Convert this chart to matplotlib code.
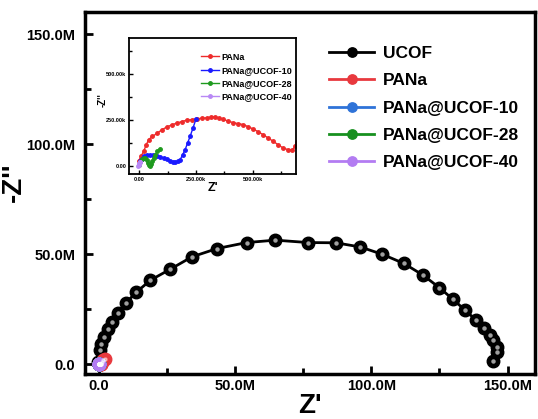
import numpy as np
import matplotlib.pyplot as plt
from matplotlib.ticker import FuncFormatter, MultipleLocator

plt.rcParams['font.family'] = ['Liberation Sans', 'DejaVu Sans']
plt.rcParams['font.weight'] = 'bold'

# UCOF impedance, in MOhm
ucof_x = [-0.3, 0.4, 1.0, 2.0, 3.4, 4.9, 7.1, 10.0, 13.8, 19.0, 26.3, 34.2, 43.5, 54.3, 64.8, 76.9,
          87.0, 96.0, 104.0, 112.0, 119.0, 125.0, 130.0, 134.5, 138.5, 141.5, 143.5, 144.5, 146.0, 146.0, 144.5]
ucof_y = [1.0, 6.4, 9.4, 12.4, 15.8, 19.2, 23.3, 27.9, 32.7, 38.2, 43.2, 48.8, 52.6, 55.3, 56.4, 55.3,
          55.2, 53.3, 50.0, 45.8, 40.5, 34.8, 29.5, 24.5, 20.0, 16.5, 13.5, 11.0, 8.0, 5.5, 1.5]

# other samples, in kOhm
pana_x = [-3, 8, 19, 30, 41, 58, 77, 98, 121, 143, 165, 187, 209, 231, 253, 275, 297, 315, 333, 352, 370,
          392, 414, 436, 458, 480, 501, 523, 545, 567, 589, 611, 633, 654, 674, 685, 695, 800, 1200, 1700, 2200]
pana_y = [27, 52, 79, 112, 143, 160, 176, 195, 212, 223, 233, 241, 249, 252, 256, 259, 262, 265, 268, 261, 253,
          244, 235, 230, 225, 213, 201, 186, 170, 152, 134, 115, 97, 88, 84, 105, 128, 300, 900, 1800, 2600]

u10_x = [4, 12, 19, 33, 48, 62, 77, 92, 107, 121, 136, 147, 158, 169, 180, 191, 202, 213, 224, 237, 250]
u10_y = [24, 38, 51, 58, 60, 58, 55, 49, 42, 35, 27, 22, 18, 24, 33, 60, 88, 125, 161, 208, 256]

u28_x = [-3, 4, 12, 19, 26, 32, 37, 41, 45, 50, 56, 63, 70, 80, 89]
u28_y = [5, 22, 37, 40, 42, 30, 15, 4, -4, 10, 24, 42, 60, 78, 93]

u40_x = [-4, -3, -2, 0, 2, 4]
u40_y = [-4, 2, 8, 14, 19, 22]

names = ['PANa', 'PANa@UCOF-10', 'PANa@UCOF-28', 'PANa@UCOF-40']
main_colors = ['#e8393e', '#2f73d8', '#17901f', '#b37cf2']
inset_colors = ['#ee2b2b', '#1a1aff', '#1e9a1e', '#b888f5']
samples = [(pana_x, pana_y), (u10_x, u10_y), (u28_x, u28_y), (u40_x, u40_y)]

fig = plt.figure(figsize=(5.38, 4.19), dpi=100)
ax = fig.add_axes([0.158, 0.107, 0.836, 0.864])

# main plot, small light dot on each marker for the shaded look
ax.plot(ucof_x, ucof_y, '-o', color='black', lw=2, ms=9, label='UCOF', zorder=3)
ax.plot(ucof_x, ucof_y, 'o', color='#a0a0a0', ms=2.2, zorder=4)
for (sx, sy), c, n in zip(samples, main_colors, names):
    mx = np.array(sx) / 1000
    my = np.array(sy) / 1000
    ax.plot(mx, my, '-o', color=c, lw=2, ms=9, label=n, zorder=5)
    ax.plot(mx, my, 'o', color='white', alpha=0.45, ms=2.2, zorder=6)

ax.set_xlim(-5, 160)
ax.set_ylim(-4.5, 160)
ax.xaxis.set_major_locator(MultipleLocator(50))
ax.xaxis.set_minor_locator(MultipleLocator(25))
ax.yaxis.set_major_locator(MultipleLocator(50))
ax.yaxis.set_minor_locator(MultipleLocator(25))
fmt_m = FuncFormatter(lambda v, p: '0.0' if v == 0 else f'{v:.1f}M')
ax.xaxis.set_major_formatter(fmt_m)
ax.yaxis.set_major_formatter(fmt_m)
ax.tick_params(which='both', direction='in', width=2, labelsize=10.5)
ax.tick_params(which='major', length=6)
ax.tick_params(which='minor', length=4)
ax.tick_params(axis='y', pad=7)
for s in ax.spines.values():
    s.set_linewidth(2.5)
ax.set_xlabel("Z'", fontsize=20, fontweight='bold', labelpad=0)
ax.set_ylabel("-Z''", fontsize=20, fontweight='bold')
ax.yaxis.set_label_coords(-0.13, 0.53)
ax.legend(loc='upper right', bbox_to_anchor=(1.0, 0.95), frameon=False, fontsize=12.5,
          handlelength=2.6, handletextpad=0.5, labelspacing=0.7, markerscale=0.75)

# inset
ins = fig.add_axes([0.240, 0.585, 0.310, 0.325])
for (sx, sy), c, n in zip(samples, inset_colors, names):
    ins.plot(np.array(sx) * 1000, np.array(sy) * 1000, '-o', color=c, lw=1, ms=2.5, label=n)
ins.set_xlim(-45000, 690000)
ins.set_ylim(-45000, 700000)
ins.xaxis.set_major_locator(MultipleLocator(250000))
ins.xaxis.set_minor_locator(MultipleLocator(125000))
ins.yaxis.set_major_locator(MultipleLocator(250000))
ins.yaxis.set_minor_locator(MultipleLocator(125000))
fmt_k = FuncFormatter(lambda v, p: f'{v / 1000:.2f}k' if v != 0 else '0.00')
ins.xaxis.set_major_formatter(fmt_k)
ins.yaxis.set_major_formatter(fmt_k)
ins.tick_params(which='both', direction='in', width=1, labelsize=4, pad=2)
ins.tick_params(which='major', length=3)
ins.tick_params(which='minor', length=2)
for s in ins.spines.values():
    s.set_linewidth(1.3)
ins.set_xlabel("Z'", fontsize=9, fontweight='bold', labelpad=0)
ins.set_ylabel("-Z''", fontsize=7, fontweight='bold')
ins.yaxis.set_label_coords(-0.13, 0.54)
ins.legend(loc='upper right', bbox_to_anchor=(1.01, 0.93), frameon=False, fontsize=6.5,
           handlelength=2.0, handletextpad=0.3, labelspacing=0.45, borderaxespad=0.2)

plt.savefig('out.png', dpi=100)
